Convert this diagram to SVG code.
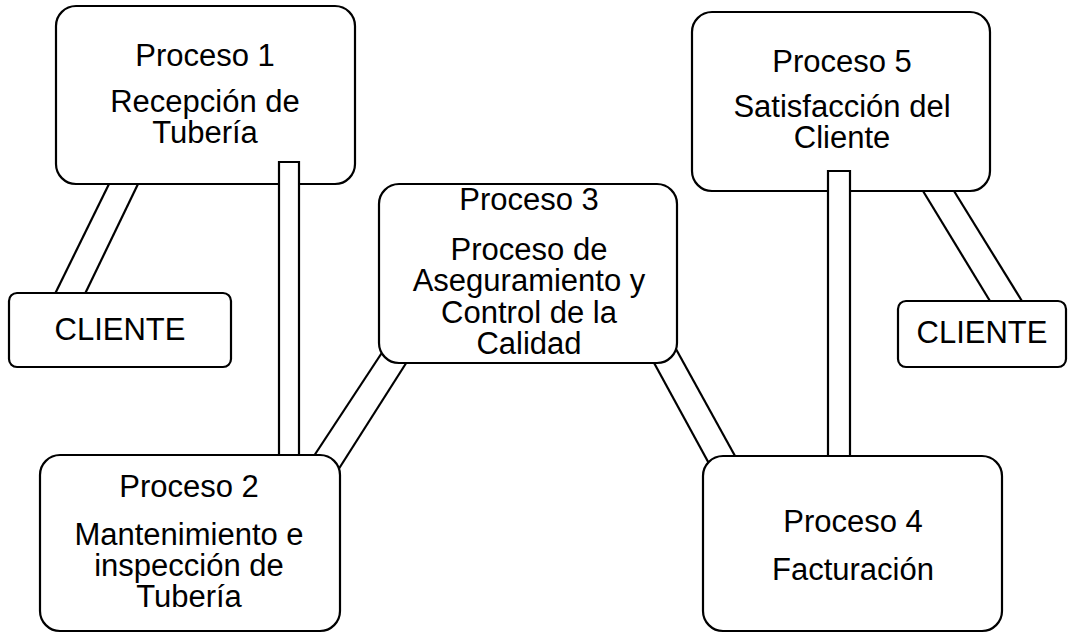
<svg xmlns="http://www.w3.org/2000/svg" width="1068" height="633" viewBox="0 0 1068 633">
  <style>
    .box { fill: #ffffff; stroke: #000000; stroke-width: 2.2; }
    .link { fill: none; stroke: #000000; stroke-width: 2.2; }
    .pipe { fill: #ffffff; stroke: #000000; stroke-width: 2.2; }
    text { font-family: "Liberation Sans", Arial, sans-serif; font-size: 31px; fill: #000000; text-anchor: middle; }
  </style>
  <rect width="1068" height="633" fill="#ffffff"/>

  <!-- upper process boxes sit beneath their connectors -->
  <g id="proceso1">
    <rect class="box" x="56" y="6" width="299" height="178" rx="20" ry="20"/>
    <text x="205" y="66">Proceso 1</text>
    <text x="205" y="112">Recepción de</text>
    <text x="205" y="143">Tubería</text>
  </g>
  <g id="proceso5">
    <rect class="box" x="692" y="12" width="298" height="179" rx="20" ry="20"/>
    <text x="842" y="72">Proceso 5</text>
    <text x="842" y="117">Satisfacción del</text>
    <text x="842" y="148">Cliente</text>
  </g>

  <g id="connectors">
    <!-- Proceso 1 to CLIENTE -->
    <line class="link" x1="109" y1="184" x2="52" y2="300"/>
    <line class="link" x1="138" y1="184" x2="82" y2="300"/>
    <!-- Proceso 1 to Proceso 2 -->
    <path class="pipe" d="M279,470 L279,162 L299,162 L299,470"/>
    <!-- Proceso 3 to Proceso 2 -->
    <line class="link" x1="387" y1="345" x2="308" y2="465"/>
    <line class="link" x1="410" y1="357" x2="333" y2="478"/>
    <!-- Proceso 3 to Proceso 4 -->
    <line class="link" x1="647" y1="350" x2="712" y2="469"/>
    <line class="link" x1="671" y1="340" x2="740" y2="465"/>
    <!-- Proceso 5 to Proceso 4 -->
    <path class="pipe" d="M828,470 L828,171 L850,171 L850,470"/>
    <!-- Proceso 5 to CLIENTE -->
    <line class="link" x1="923" y1="191" x2="993" y2="306"/>
    <line class="link" x1="954" y1="191" x2="1025" y2="306"/>
  </g>

  <g id="cliente-izq">
    <rect class="box" x="9" y="293" width="222" height="74" rx="8" ry="8"/>
    <text x="120" y="340">CLIENTE</text>
  </g>
  <g id="cliente-der">
    <rect class="box" x="898" y="301" width="168" height="66" rx="8" ry="8"/>
    <text x="982" y="343">CLIENTE</text>
  </g>
  <g id="proceso3">
    <rect class="box" x="379" y="184" width="298" height="179" rx="20" ry="20"/>
    <text x="529" y="210">Proceso 3</text>
    <text x="529" y="260">Proceso de</text>
    <text x="529" y="291">Aseguramiento y</text>
    <text x="529" y="323">Control de la</text>
    <text x="529" y="354">Calidad</text>
  </g>
  <g id="proceso2">
    <rect class="box" x="40" y="455" width="300" height="176" rx="20" ry="20"/>
    <text x="189" y="497">Proceso 2</text>
    <text x="189" y="545">Mantenimiento e</text>
    <text x="189" y="576">inspección de</text>
    <text x="189" y="607">Tubería</text>
  </g>
  <g id="proceso4">
    <rect class="box" x="703" y="456" width="299" height="175" rx="20" ry="20"/>
    <text x="853" y="532">Proceso 4</text>
    <text x="853" y="580">Facturación</text>
  </g>
</svg>
